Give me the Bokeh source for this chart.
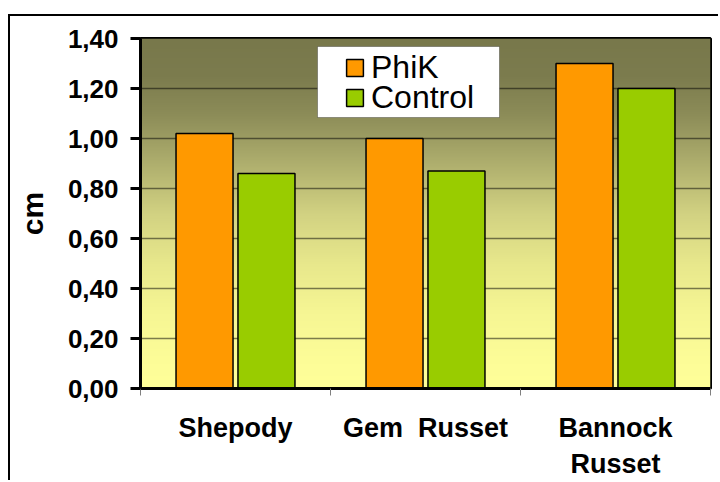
import numpy as np
from bokeh.plotting import figure
from bokeh.models import (ColumnDataSource, FixedTicker, CustomJSTickFormatter,
                          Legend, LegendItem, BoxAnnotation)
from bokeh.transform import dodge
from bokeh.embed import file_html
from bokeh.resources import INLINE

# ---- data ----
categories = ["Shepody", "Gem \u00a0Russet", "Bannock\nRusset"]
phik = [1.02, 1.00, 1.30]
control = [0.86, 0.87, 1.20]
series_names = ["PhiK", "Control"]
series_colors = ["#FF9900", "#99CC00"]
y_ticks = [0.0, 0.2, 0.4, 0.6, 0.8, 1.0, 1.2, 1.4]
y_tick_labels = ["0,00", "0,20", "0,40", "0,60", "0,80", "1,00", "1,20", "1,40"]
y_label = "cm"

FONT = "Liberation Sans"

n = len(categories)
pos = [i + 0.5 for i in range(n)]
bounds = list(range(n + 1))
src = ColumnDataSource(dict(pos=pos, phik=phik, control=control))

p = figure(width=710, height=466, x_range=(0, n), y_range=(y_ticks[0], y_ticks[-1]),
           output_backend="svg", toolbar_location=None,
           min_border_left=130, min_border_right=10, min_border_top=22, min_border_bottom=94)
p.styles = {"margin-top": "14px", "margin-left": "8px",
            "border-left": "2px solid black", "border-top": "2px solid black"}
p.outline_line_color = "black"
p.outline_line_width = 3

# gradient background (styling)
stops_v = [0.0, 0.1, 0.3, 0.5, 0.7, 0.9, 1.1, 1.25, 1.4]
stops_c = [(255, 255, 153), (253, 253, 152), (246, 246, 148), (232, 232, 140), (210, 210, 130),
           (175, 175, 110), (140, 140, 88), (124, 124, 78), (120, 120, 75)]
H = 350
yy = np.linspace(y_ticks[0], y_ticks[-1], H)
img = np.empty((H, 2), dtype=np.uint32)
view = img.view(dtype=np.uint8).reshape((H, 2, 4))
for k in range(3):
    col = np.interp(yy, stops_v, [c[k] for c in stops_c])
    view[:, 0, k] = col
    view[:, 1, k] = col
view[:, :, 3] = 255
p.image_rgba(image=[img], x=0, y=y_ticks[0], dw=n, dh=y_ticks[-1] - y_ticks[0], level="image")

# bars
w = 0.3
off = 0.163
r1 = p.vbar(x=dodge("pos", -off, range=p.x_range), top="phik", width=w, source=src,
            fill_color=series_colors[0], line_color="black", line_width=1.5)
r2 = p.vbar(x=dodge("pos", off, range=p.x_range), top="control", width=w, source=src,
            fill_color=series_colors[1], line_color="black", line_width=1.5)

# grid
p.xgrid.visible = False
p.ygrid.ticker = FixedTicker(ticks=y_ticks)
p.ygrid.grid_line_color = "black"
p.ygrid.grid_line_alpha = 0.5
p.ygrid.grid_line_width = 1.5

fmt_code = """
let best = 0;
for (let k = 0; k < tvals.length; k++) {
  if (Math.abs(tvals[k] - tick) < Math.abs(tvals[best] - tick)) { best = k; }
}
return tlabels[best];
"""

yax = p.yaxis[0]
yax.ticker = FixedTicker(ticks=y_ticks)
yax.formatter = CustomJSTickFormatter(args=dict(tvals=y_ticks, tlabels=y_tick_labels), code=fmt_code)
yax.axis_line_width = 3
yax.axis_line_color = "black"
yax.major_tick_out = 10
yax.major_tick_in = 0
yax.major_tick_line_width = 3
yax.minor_tick_line_color = None
yax.major_label_standoff = 12
yax.major_label_text_font = FONT
yax.major_label_text_font_size = "26px"
yax.major_label_text_font_style = "bold"
yax.major_label_text_color = "black"
yax.axis_label = y_label
yax.axis_label_text_font = FONT
yax.axis_label_text_font_size = "30px"
yax.axis_label_text_font_style = "bold"
yax.axis_label_text_color = "black"
yax.axis_label_standoff = 16

xax = p.xaxis[0]
xax.ticker = FixedTicker(ticks=pos, minor_ticks=bounds)
xax.formatter = CustomJSTickFormatter(args=dict(tvals=pos, tlabels=categories), code=fmt_code)
xax.axis_line_width = 3
xax.axis_line_color = "black"
xax.major_tick_out = 0
xax.major_tick_in = 0
xax.major_tick_line_color = None
xax.minor_tick_out = 7
xax.minor_tick_in = 0
xax.minor_tick_line_color = "#808080"
xax.minor_tick_line_width = 1
xax.major_label_standoff = 17
xax.major_label_text_font = FONT
xax.major_label_text_font_size = "27px"
xax.major_label_text_font_style = "bold"
xax.major_label_text_color = "black"
xax.major_label_text_line_height = 1.22

# legend box + legend (one legend per entry for exact row spacing)
box = BoxAnnotation(left=177, right=359, top=342, bottom=271,
                    left_units="screen", right_units="screen", top_units="screen", bottom_units="screen",
                    fill_color="white", fill_alpha=1, line_color="black", line_width=1)
p.add_layout(box)

for name, rend, ly in [(series_names[0], r1, 302), (series_names[1], r2, 272)]:
    lg = Legend(items=[LegendItem(label=name, renderers=[rend])],
                location=(204, ly), padding=0, margin=0,
                glyph_width=21, glyph_height=21, label_standoff=6,
                label_text_font=FONT, label_text_font_size="32px", label_text_color="black",
                border_line_color=None, background_fill_alpha=0)
    p.add_layout(lg)

open("out.html", "w").write(file_html(p, INLINE))
